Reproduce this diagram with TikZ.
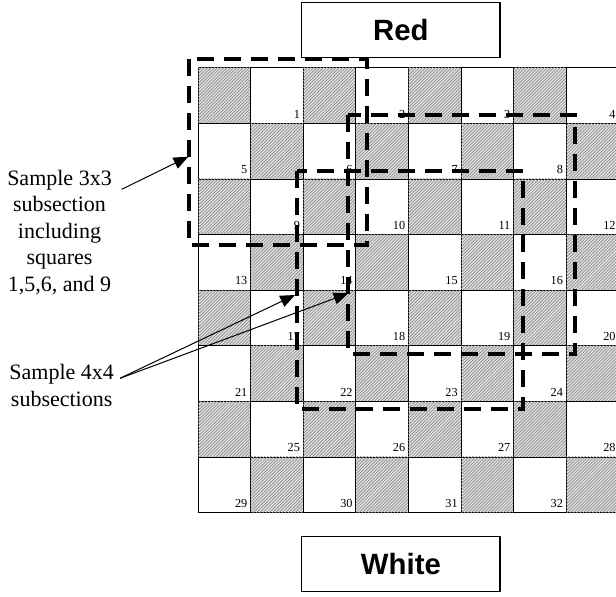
\documentclass[tikz,border=0pt]{standalone}
\usepackage{fontspec}
\setmainfont{Liberation Serif}
\newfontfamily\headfont{Liberation Sans}
\usepackage{xcolor}
\usetikzlibrary{arrows.meta,patterns.meta,positioning,calc}
\definecolor{hatchback}{RGB}{222,222,222}
\definecolor{hatchline}{RGB}{140,140,140}

\tikzset{
    darksq/.style={draw=black, line width=0.6pt, fill=hatchback,
        postaction={pattern={Lines[angle=45,distance=1.7pt,line width=0.5pt]}, pattern color=hatchline}},
    lightsq/.style={draw=black, line width=0.6pt, fill=white},
    sqnum/.style={anchor=base east, inner sep=0pt, font=\fontsize{9.2}{10}\selectfont},
    subbox/.style={draw=black, line width=3pt, dash pattern=on 12.75pt off 7.5pt},
    sidebox/.style={draw=black, line width=0.9pt, fill=white, minimum width=148.7pt,
        minimum height=41.2pt, inner sep=0pt, font=\headfont\bfseries\fontsize{22}{26}\selectfont},
    note/.style={align=center, inner sep=0pt, font=\fontsize{16.5}{19.9}\selectfont},
    pointer/.style={line width=0.75pt, -{Triangle[length=11pt,width=9pt]}}
}

\begin{document}
\begin{tikzpicture}[x=0.75pt, y=-0.75pt]
    \useasboundingbox (0,0) rectangle (616,596);
    \clip (0,0) rectangle (616,596);

    % Board
    \foreach \r in {0,...,7} {
        \foreach \c in {0,...,7} {
            \pgfmathsetmacro{\xa}{198+52.6*\c}
            \pgfmathsetmacro{\ya}{67.7+55.6*\r}
            \pgfmathtruncatemacro{\odd}{mod(\r+\c,2)}
            \ifnum\odd=0
                \path[darksq] (\xa,\ya) rectangle ++(52.6,55.6);
            \else
                \pgfmathtruncatemacro{\num}{4*\r+floor(\c/2)+1}
                \path[lightsq] (\xa,\ya) rectangle ++(52.6,55.6);
                \node[sqnum] (n\num) at (\xa+49.6,\ya+50.3) {\num};
            \fi
        }
    }

    % Red and White sides
    \node[sidebox] (red) at (400.9,30.2) {Red};
    \node[sidebox] (white) at (400.9,563.7) {White};

    % Sample subsections
    \path[subbox] (189.3,59.3) rectangle (366.5,245.3);
    \path[subbox] (348.3,115) rectangle (575,353.5);
    \path[subbox] (296.5,171) rectangle (522.5,409);

    % Labels
    \node[note] (lab3) at (59.5,232.5) {Sample 3x3\\subsection\\including\\squares\\1,5,6, and 9};
    \node[note] (lab4) at (61.7,385.5) {Sample 4x4\\subsections};

    % Pointers
    \coordinate (t3) at (121.7,189.3);
    \coordinate (h3) at (188.3,156.7);
    \coordinate (t4) at (120,378.3);
    \coordinate (h4a) at (295,295);
    \coordinate (h4b) at (348.3,293.3);
    \draw[pointer] (t3) -- (h3);
    \draw[pointer] (t4) -- (h4a);
    \draw[pointer] (t4) -- (h4b);
\end{tikzpicture}
\end{document}
